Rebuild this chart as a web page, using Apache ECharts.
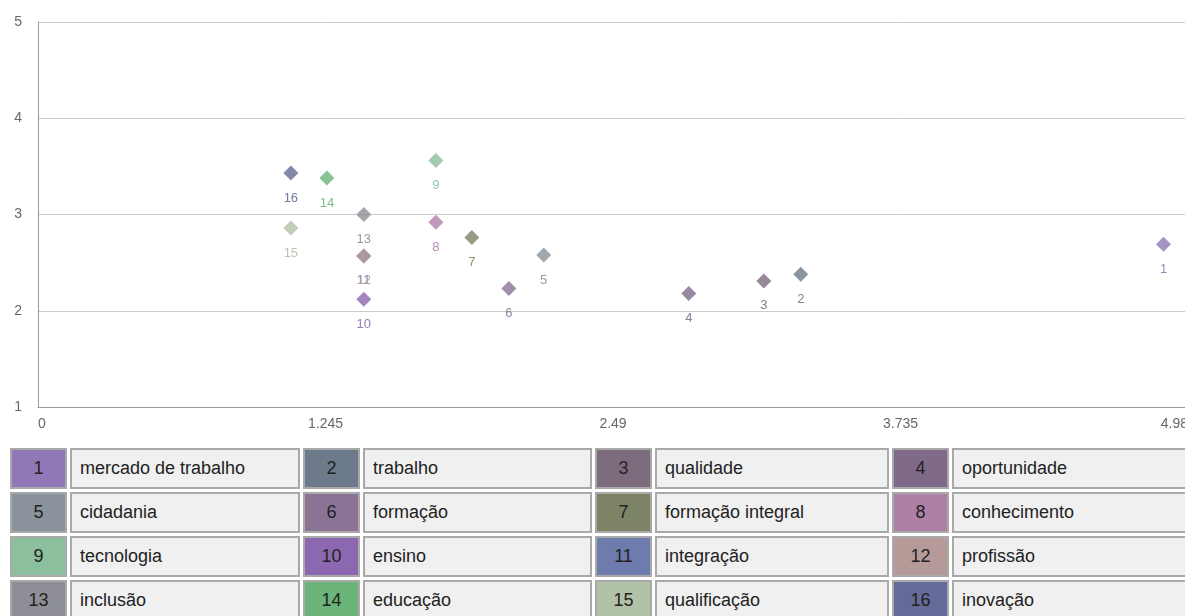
<!DOCTYPE html>
<html>
<head>
<meta charset="utf-8">
<script src="https://cdn.jsdelivr.net/npm/echarts@6/dist/echarts.min.js"></script>
<style>
  html, body { margin: 0; padding: 0; background: #fff; overflow: hidden; }
  #chart { width: 1220px; height: 440px; }
  #legend {
    position: absolute; left: 7px; top: 445px; width: 1200px;
    border-collapse: separate; border-spacing: 3px 3px; table-layout: fixed;
    font-family: Arial, "Liberation Sans", sans-serif; font-size: 18px; color: #222;
  }
  #legend td { border: 2px solid #a9a9a9; height: 37px; padding: 0; white-space: nowrap; overflow: hidden; }
  #legend td.num { width: 53px; text-align: center; }
  #legend td.name { background: #f0f0f0; padding-left: 8px; }
</style>
</head>
<body>
<div id="chart"></div>
<table id="legend"></table>
<script>
// palavras-chave e coordenadas
var keywords = ['mercado de trabalho', 'trabalho', 'qualidade', 'oportunidade', 'cidadania', 'formação',
  'formação integral', 'conhecimento', 'tecnologia', 'ensino', 'integração', 'profissão',
  'inclusão', 'educação', 'qualificação', 'inovação'];
var xValues = [4.874, 3.303, 3.143, 2.818, 2.19, 2.039, 1.879, 1.723, 1.723, 1.411, 1.411, 1.411, 1.411, 1.251, 1.095, 1.095];
var yValues = [2.69, 2.38, 2.31, 2.18, 2.58, 2.23, 2.76, 2.92, 3.56, 2.12, 2.57, 2.57, 3.0, 3.38, 2.86, 3.43];
var xTicks = [0, 1.245, 2.49, 3.735, 4.98];
var yTicks = [1, 2, 3, 4, 5];

var palette = ['#9079b6', '#6c7a8c', '#7d6c7e', '#7f6a8a', '#8a939b', '#8b7396', '#7d8465', '#ae80a8',
  '#8cbf9e', '#8c68b0', '#6e7cad', '#b59a98', '#8e8e96', '#6bb57b', '#b1c2a6', '#646b98'];

var chart = echarts.init(document.getElementById('chart'));

var points = keywords.map(function (k, i) {
  return {
    name: k,
    value: [xValues[i], yValues[i]],
    itemStyle: { color: palette[i] },
    label: { color: palette[i], opacity: 0.9 }
  };
});

chart.setOption({
  animation: false,
  // a área do gráfico passa um pouco da janela, como no original
  grid: { left: 38, top: 22, right: 32, bottom: 33, outerBoundsMode: 'none' },
  xAxis: {
    type: 'value',
    min: xTicks[0],
    max: xTicks[xTicks.length - 1],
    interval: xTicks[1] - xTicks[0],
    axisLine: { show: true, lineStyle: { color: '#9a9a9a', width: 1 } },
    axisTick: { show: false },
    splitLine: { show: false },
    axisLabel: {
      color: '#666', fontSize: 14, fontFamily: 'Arial', margin: 10,
      alignMinLabel: 'left',
      alignMaxLabel: 'right',
      formatter: function (v) { return String(+v.toFixed(3)); }
    }
  },
  yAxis: {
    type: 'value',
    min: yTicks[0],
    max: yTicks[yTicks.length - 1],
    interval: 1,
    axisLine: { show: true, lineStyle: { color: '#9a9a9a', width: 1 } },
    axisTick: { show: false },
    splitLine: { show: true, lineStyle: { color: '#cccccc', width: 1 } },
    axisLabel: { color: '#666', fontSize: 14, fontFamily: 'Arial', margin: 16 }
  },
  series: [{
    type: 'scatter',
    symbol: 'diamond',
    symbolSize: 15,
    data: points,
    label: {
      show: true,
      position: 'bottom',
      distance: 11,
      fontSize: 13,
      fontFamily: 'Arial',
      formatter: function (p) { return String(p.dataIndex + 1); }
    }
  }]
});

// tabela da legenda
var nameWidths = [218, 217, 222, 240];
var table = document.getElementById('legend');
for (var r = 0; r < 4; r++) {
  var tr = document.createElement('tr');
  for (var c = 0; c < 4; c++) {
    var i = r * 4 + c;
    var tdNum = document.createElement('td');
    tdNum.className = 'num';
    tdNum.style.background = palette[i];
    tdNum.textContent = i + 1;
    var tdName = document.createElement('td');
    tdName.className = 'name';
    tdName.style.width = nameWidths[c] + 'px';
    tdName.textContent = keywords[i];
    tr.appendChild(tdNum);
    tr.appendChild(tdName);
  }
  table.appendChild(tr);
}
</script>
</body>
</html>
